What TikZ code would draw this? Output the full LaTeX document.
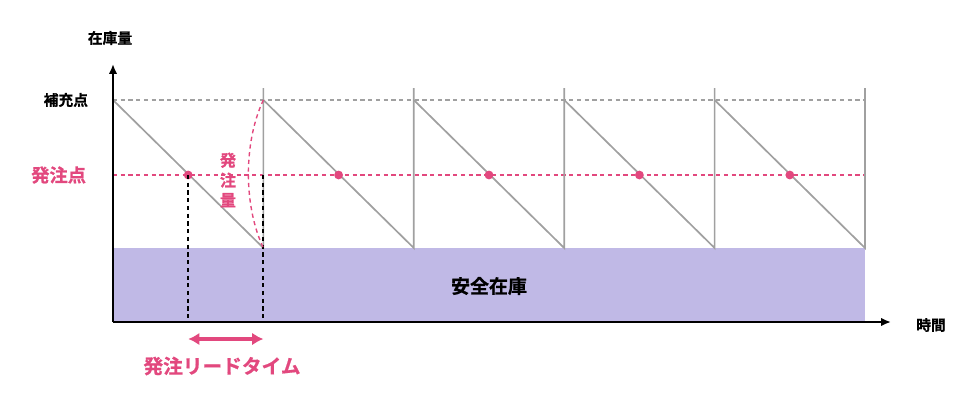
\documentclass[tikz,border=0pt]{standalone}
\usepackage{fontspec}
\setmainfont{Noto Sans CJK JP}[UprightFont={* Bold}, UprightFeatures={FakeBold=0.8}]
\usetikzlibrary{arrows.meta}
\definecolor{hotpink}{RGB}{226,72,126}
\definecolor{stockgray}{RGB}{160,160,160}
\definecolor{safety}{RGB}{192,185,230}
\tikzset{
  saw/.style={stockgray, line width=1.2pt},
  lvl/.style={dashed, line width=0.9pt, dash pattern=on 3pt off 2.5pt},
  drop/.style={black, line width=1.3pt, dash pattern=on 3pt off 2.5pt},
  lbl/.style={font=\fontsize{10.5}{12}\selectfont},
  pinklbl/.style={text=hotpink},
}
\begin{document}
\begin{tikzpicture}[>={Latex[length=7pt,width=6pt]}]
\useasboundingbox (-2.825,-2.125) rectangle (21.6,8.05);
% safety stock
\fill[safety] (0,0) rectangle (18.8,1.85);
\node[font=\fontsize{13.5}{15}\selectfont] (safe) at (9.4,0.9) {安全在庫};
% levels
\draw[lvl, stockgray] (0,5.55)--(18.8,5.55);
\draw[lvl, hotpink] (0,3.675)--(18.8,3.675);
% sawtooth
\foreach \k in {0,...,4}
{
    \draw[saw] ({3.76*\k},5.55)--({3.76*(\k+1)},1.85)--({3.76*(\k+1)},5.85);
    \fill[hotpink] ({3.76*\k+1.88},3.675) circle (0.11);
}
% lead time
\coordinate (op) at (1.88,3.675);
\coordinate (arr) at (3.76,3.675);
\draw[drop] (op)--(1.88,0);
\draw[drop] (arr)--(3.76,0);
\draw[{Latex[length=8pt,width=9pt]}-{Latex[length=8pt,width=9pt]}, hotpink, line width=2.2pt] (1.88,-0.425)--(3.76,-0.425);
\node[pinklbl, font=\fontsize{14}{16}\selectfont] (lead) at (2.725,-1.1) {発注リードタイム};
% order quantity
\draw[hotpink, line width=1pt, dash pattern=on 3pt off 2.5pt] (3.76,5.55) .. controls (3.26,4.5) and (3.26,2.9) .. (3.76,1.85);
\node[pinklbl, align=center, inner sep=0pt, font=\fontsize{11.5}{14.2}\selectfont] (qty) at (2.875,3.55) {発\\注\\量};
% axes
\draw[->, line width=1.4pt] (0,0)--(19.45,0);
\draw[->, line width=1.4pt] (0,0)--(0,6.45);
\node[lbl] (stock) at (-0.075,7.1) {在庫量};
\node[lbl] (time) at (20.45,-0.075) {時間};
\node[lbl, anchor=east] (refill) at (-0.5,5.55) {補充点};
\node[pinklbl, font=\fontsize{13}{15}\selectfont, anchor=east] (order) at (-0.55,3.675) {発注点};
\end{tikzpicture}
\end{document}
